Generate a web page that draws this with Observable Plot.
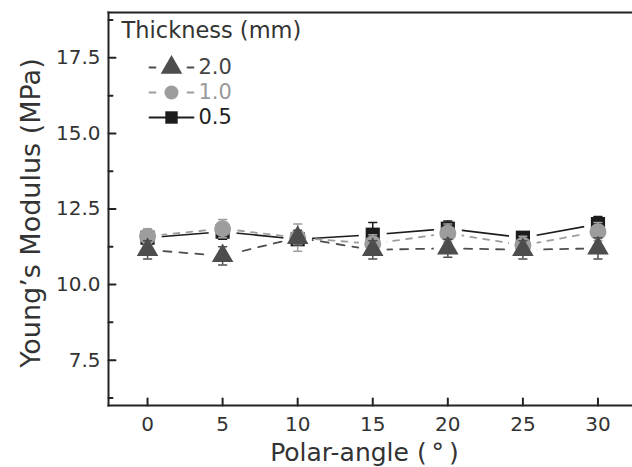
<!DOCTYPE html>
<html><head><meta charset="utf-8">
<script src="https://cdn.jsdelivr.net/npm/d3@7"></script>
<script src="https://cdn.jsdelivr.net/npm/@observablehq/plot@0.6"></script>
<style>body{margin:0;background:#fff}</style>
</head><body><div id="chart"></div>
<script>
const angles = [0, 5, 10, 15, 20, 25, 30];
const seriesNames = ["2.0", "1.0", "0.5"];
const modulus20 = [11.15, 10.95, 11.55, 11.15, 11.2, 11.15, 11.2];
const err20 = [0.3, 0.3, 0.25, 0.3, 0.3, 0.3, 0.35];
const modulus10 = [11.6, 11.85, 11.55, 11.35, 11.7, 11.3, 11.75];
const err10 = [0.25, 0.3, 0.45, 0.3, 0.3, 0.3, 0.3];
const modulus05 = [11.55, 11.75, 11.5, 11.65, 11.85, 11.55, 12.0];
const err05 = [0.2, 0.25, 0.2, 0.4, 0.25, 0.2, 0.25];
const xTicks = [0, 5, 10, 15, 20, 25, 30];
const yTicks = [7.5, 10, 12.5, 15, 17.5];
const yMinorTicks = [6.25, 8.75, 11.25, 13.75, 16.25, 18.75];
const xDomain = [-2.6, 32.3];
const yDomain = [6, 19];

const styles = {
  "2.0": {color: "#4d4d4d", text: "#444", symbol: "triangle", dash: "8,8", r: 8, lr: 8, values: modulus20, errs: err20},
  "1.0": {color: "#9d9d9d", text: "#9a9a9a", symbol: "circle", dash: "6,7", r: 8.5, lr: 7, values: modulus10, errs: err10},
  "0.5": {color: "#1c1c1c", text: "#222", symbol: "square", dash: null, r: 8, lr: 7, values: modulus05, errs: err05}
};
const rows = name => angles.map((a, i) => ({angle: a, value: styles[name].values[i], err: styles[name].errs[i]}));
const lineShape = {draw(context, l) { context.moveTo(0, 0); context.lineTo(0, -l); }};
const drawOrder = ["0.5", "1.0", "2.0"];

const marks = [];
// connecting lines
for (const n of drawOrder) {
  const s = styles[n];
  marks.push(Plot.line(rows(n), {x: "angle", y: "value", stroke: s.color, strokeWidth: n === "0.5" ? 1.6 : 1.8, strokeDasharray: s.dash}));
}
// gaps around symbols
for (const n of drawOrder) {
  marks.push(Plot.dot(rows(n), {x: "angle", y: "value", r: 14, fill: "white"}));
}
// error bars and markers
for (const n of drawOrder) {
  const s = styles[n];
  const d = rows(n);
  marks.push(Plot.ruleX(d, {x: "angle", y1: r => r.value - r.err, y2: r => r.value + r.err, stroke: s.color, strokeWidth: 1.5}));
  marks.push(Plot.vector(d, {x: "angle", y: r => r.value + r.err, length: 8, rotate: 90, anchor: "middle", shape: lineShape, stroke: s.color, strokeWidth: 1.5}));
  marks.push(Plot.vector(d, {x: "angle", y: r => r.value - r.err, length: 8, rotate: 90, anchor: "middle", shape: lineShape, stroke: s.color, strokeWidth: 1.5}));
  marks.push(Plot.dot(d, {x: "angle", y: "value", symbol: s.symbol, r: s.r, fill: s.color, stroke: "none"}));
}
// legend
marks.push(Plot.text(["Thickness (mm)"], {text: d => d, frameAnchor: "top-left", dx: 13, dy: 18, textAnchor: "start", lineAnchor: "middle", fontSize: 22.5, fill: "#333"}));
seriesNames.forEach((n, i) => {
  const s = styles[n];
  const dy = 55 + i * 25;
  marks.push(Plot.vector([n], {frameAnchor: "top-left", dx: 63, dy, length: 44, rotate: 90, anchor: "middle", shape: lineShape, stroke: s.color, strokeWidth: 1.8, strokeDasharray: s.dash ? "6,32" : null}));
  marks.push(Plot.dot([n], {frameAnchor: "top-left", dx: 63, dy, symbol: s.symbol, r: s.lr, fill: s.color, stroke: "none"}));
  marks.push(Plot.text([n], {text: d => d, frameAnchor: "top-left", dx: 90, dy, textAnchor: "start", lineAnchor: "middle", fontSize: 21, fill: s.text}));
});
// axes
marks.push(Plot.axisX({ticks: xTicks, tickSize: 0, tickPadding: 11, fontSize: 20, label: null, tickFormat: d3.format("d")}));
marks.push(Plot.axisY({ticks: yTicks, tickSize: 0, tickPadding: 8, fontSize: 20, label: null, tickFormat: d3.format(".1f")}));
marks.push(Plot.vector(xTicks, {x: d => d, y: () => yDomain[0], length: 7, rotate: 0, anchor: "start", shape: lineShape, stroke: "#222", strokeWidth: 2}));
marks.push(Plot.vector(yTicks, {x: () => xDomain[0], y: d => d, length: 7, rotate: 90, anchor: "start", shape: lineShape, stroke: "#222", strokeWidth: 2}));
marks.push(Plot.vector(yMinorTicks, {x: () => xDomain[0], y: d => d, length: 4, rotate: 90, anchor: "start", shape: lineShape, stroke: "#222", strokeWidth: 2}));
marks.push(Plot.frame({anchor: "left", stroke: "#222", strokeWidth: 2}));
marks.push(Plot.frame({anchor: "bottom", stroke: "#222", strokeWidth: 2}));
marks.push(Plot.frame({anchor: "top", stroke: "#222", strokeWidth: 2}));
marks.push(Plot.text(["Young’s Modulus (MPa)"], {text: d => d, frameAnchor: "left", rotate: -90, dx: -77, dy: 4, textAnchor: "middle", lineAnchor: "middle", fontSize: 27, fill: "#333"}));
marks.push(Plot.text(["Polar-angle (\u2009°\u2009)"], {text: d => d, frameAnchor: "bottom", dx: -6, dy: 47, textAnchor: "middle", lineAnchor: "middle", fontSize: 25, fill: "#333"}));

const chart = Plot.plot({
  width: 632,
  height: 467,
  marginLeft: 108,
  marginRight: 0,
  marginTop: 12,
  marginBottom: 62,
  x: {domain: xDomain},
  y: {domain: yDomain},
  style: {fontFamily: "DejaVu Sans", fontSize: "20px", color: "#333", background: "white"},
  marks
});
document.getElementById("chart").appendChild(chart);
</script>
</body></html>
